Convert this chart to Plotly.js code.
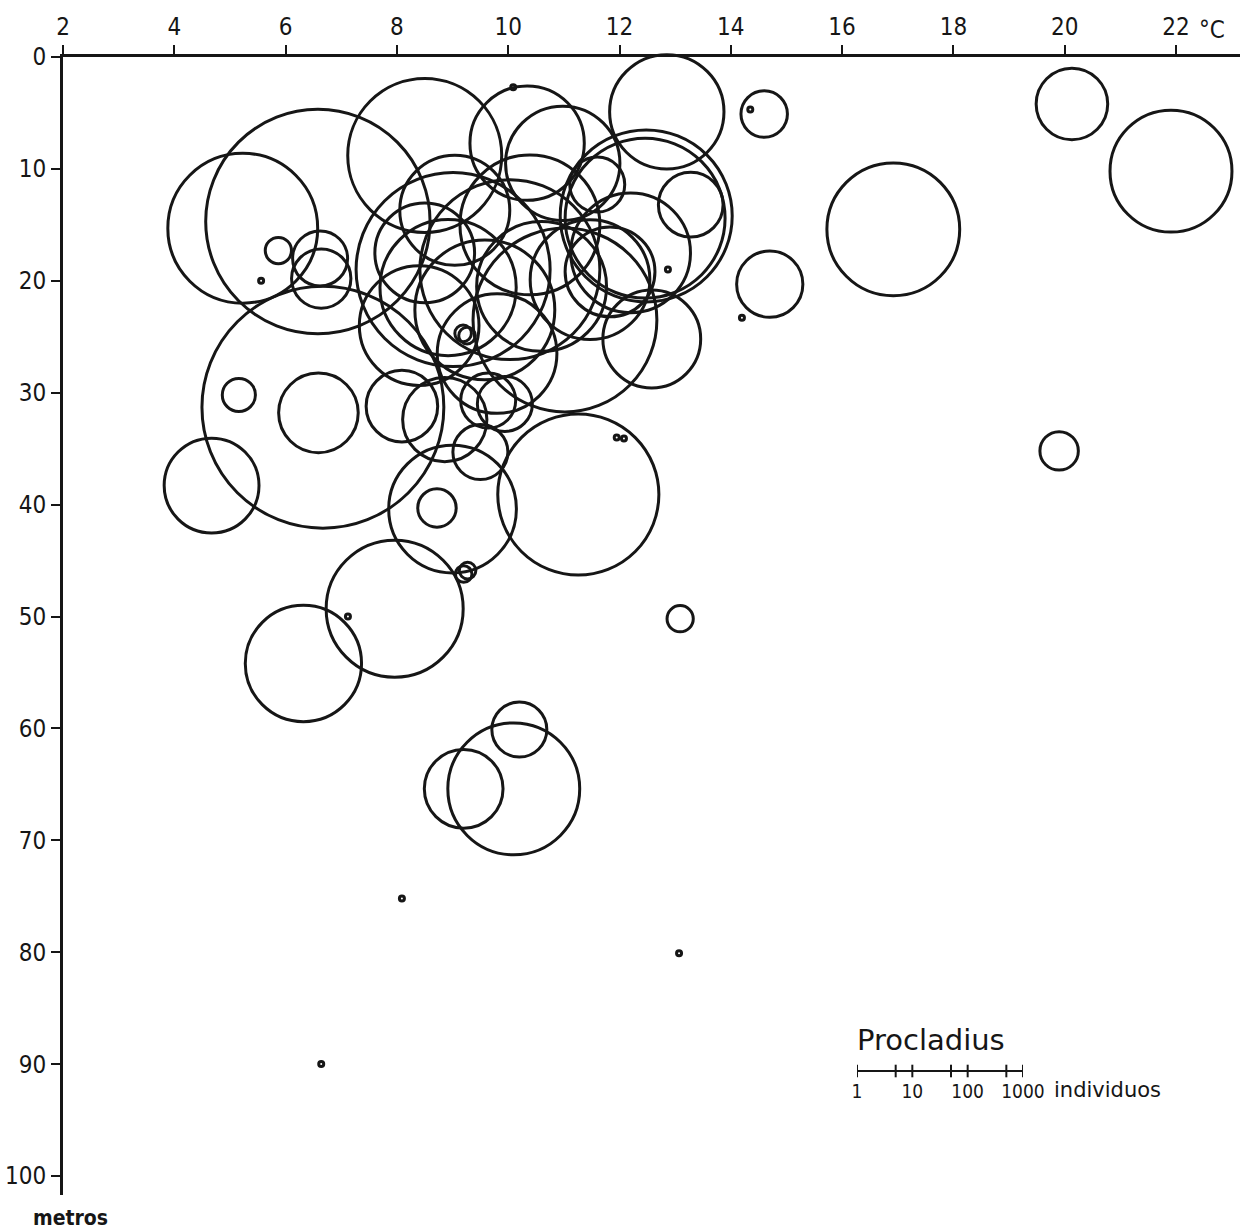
<!DOCTYPE html>
<html>
<head>
<meta charset="utf-8">
<script src="https://cdn.plot.ly/plotly-3.0.1.min.js"></script>
<style>html,body{margin:0;padding:0;background:#fff;}#chart{width:1242px;height:1232px;}</style>
</head>
<body>
<div id="chart"></div>
<script>
// Temperature (°C), depth (m) and number of Procladius individuals per sample
const temperature = [
  21.91, 20.13, 16.92, 14.60, 14.35, 14.70, 14.20, 19.90, 13.09, 8.09,
  13.07, 6.64, 12.87, 11.95, 12.08, 10.09, 7.12, 5.56,
  10.20, 10.10, 9.20, 6.32, 7.96, 9.20, 9.27,
  11.26, 8.72, 12.58, 9.00, 9.50, 9.94, 9.64, 8.09, 8.86,
  6.67, 4.67, 6.59, 5.16, 5.23, 6.58, 8.50, 5.87, 6.62, 6.64,
  10.34, 10.98, 12.85, 12.48, 12.46, 13.28, 11.60, 11.83,
  9.01, 8.92, 10.03, 9.58, 10.39, 9.04, 11.02, 11.47, 9.19, 9.26,
  8.40, 9.80, 8.50, 10.60, 12.20
];
const depth = [
  10.2, 4.2, 15.4, 5.1, 4.7, 20.3, 23.3, 35.2, 50.2, 75.2,
  80.1, 90.0, 19.0, 34.0, 34.1, 2.7, 50.0, 20.0,
  60.1, 65.4, 65.4, 54.2, 49.3, 46.2, 45.9,
  39.1, 40.3, 25.2, 40.4, 35.3, 31.0, 30.7, 31.2, 32.4,
  31.3, 38.3, 31.8, 30.2, 15.3, 14.7, 8.8, 17.3, 18.0, 19.8,
  7.7, 9.5, 4.9, 14.2, 14.4, 13.2, 11.4, 19.2,
  19.0, 20.6, 19.0, 22.6, 15.0, 13.7, 23.5, 19.9, 24.7, 24.9,
  24.0, 26.5, 17.5, 20.5, 17.5
];
const individuals = [
  165, 20, 260, 7, 1, 16, 1, 5, 3, 1,
  1, 1, 1, 1, 1, 1, 1, 1,
  10, 250, 27, 130, 310, 2, 2,
  850, 5, 60, 210, 10, 10, 10, 20, 34,
  25000, 53, 28, 4, 530, 12000, 630, 3, 10, 12,
  120, 120, 120, 1340, 810, 15, 10, 43,
  3370, 300, 1870, 350, 350, 100, 2200, 150, 2, 2,
  150, 150, 65, 230, 150
];

// Legend scale
const scaleTicks = [1, 5, 10, 50, 100, 500, 1000];
const scaleLabelVals = [1, 10, 100, 1000];
const scaleLabels = ['1', '10', '100', '1000'];

const xTicks = [2, 4, 6, 8, 10, 12, 14, 16, 18, 20, 22];
const yTicks = [0, 10, 20, 30, 40, 50, 60, 70, 80, 90, 100];

const PX_PER_DECADE = 55; // from the legend bar
const sizes = individuals.map(n => Math.max(5, PX_PER_DECADE * Math.log10(n)));

const ink = '#161616';
const FONT = '"DejaVu Sans Condensed", "Liberation Sans Narrow", "DejaVu Sans", sans-serif';
const FONT2 = '"DejaVu Sans", "Liberation Sans", sans-serif';

const traces = [
  {
    type: 'scatter', mode: 'markers',
    x: temperature, y: depth,
    marker: { symbol: 'circle-open', size: sizes, opacity: 1, color: ink, line: { color: ink, width: 3 } },
    cliponaxis: false, hoverinfo: 'x+y'
  },
  {
    type: 'scatter', mode: 'lines',
    x: [scaleTicks[0], scaleTicks[scaleTicks.length - 1]], y: [0.5, 0.5],
    xaxis: 'x2', yaxis: 'y2',
    line: { color: ink, width: 2 }, hoverinfo: 'skip'
  },
  {
    type: 'scatter', mode: 'markers',
    x: scaleTicks, y: scaleTicks.map(() => 0.5),
    xaxis: 'x2', yaxis: 'y2',
    marker: { symbol: 'line-ns-open', size: 9, opacity: 1, color: ink, line: { color: ink, width: 2 } },
    hoverinfo: 'skip'
  }
];

const W = 1242, H = 1232, L = 63, R = 2, T = 57, B = 37;
const plotW = W - L - R, plotH = H - T - B;
const px2fx = px => (px - L) / plotW;
const py2fy = py => (H - B - py) / plotH;

const layout = {
  width: W, height: H,
  margin: { l: L, r: R, t: T, b: B, pad: 0 },
  paper_bgcolor: '#fff', plot_bgcolor: '#fff',
  showlegend: false,
  font: { family: FONT, color: ink },
  xaxis: {
    range: [2, 2 + plotW / 55.65], side: 'top',
    showline: true, linewidth: 3, linecolor: ink,
    ticks: 'outside', ticklen: 9, tickwidth: 2, tickcolor: ink,
    tickvals: xTicks, ticktext: xTicks.map(String),
    tickfont: { size: 24, family: FONT, color: ink },
    showgrid: false, zeroline: false, fixedrange: true
  },
  yaxis: {
    range: [plotH / 11.19, 0],
    showline: true, linewidth: 3, linecolor: ink,
    ticks: 'outside', ticklen: 9, tickwidth: 2, tickcolor: ink,
    tickvals: yTicks, ticktext: yTicks.map(String),
    tickfont: { size: 24, family: FONT, color: ink },
    showgrid: false, zeroline: false, fixedrange: true
  },
  xaxis2: {
    type: 'log', range: [0, 3],
    domain: [px2fx(857), px2fx(1023)],
    anchor: 'y2',
    showline: false, ticks: '', showgrid: false, zeroline: false,
    tickvals: scaleLabelVals, ticktext: scaleLabels,
    tickfont: { size: 19, family: FONT, color: ink },
    fixedrange: true
  },
  yaxis2: {
    range: [0, 1], domain: [py2fy(1078), py2fy(1064)],
    anchor: 'x2', visible: false, fixedrange: true
  },
  annotations: [
    { xref: 'paper', yref: 'paper', x: px2fx(1212), y: py2fy(30), text: '°C',
      showarrow: false, xanchor: 'center', yanchor: 'middle',
      font: { size: 24, family: FONT, color: ink } },
    { xref: 'paper', yref: 'paper', x: px2fx(70), y: py2fy(1218), text: '<b>metros</b>',
      showarrow: false, xanchor: 'center', yanchor: 'middle',
      font: { size: 21, family: FONT, color: ink } },
    { xref: 'paper', yref: 'paper', x: px2fx(855), y: py2fy(1040), text: 'Procladius',
      showarrow: false, xanchor: 'left', yanchor: 'middle',
      font: { size: 29, family: FONT2, color: ink } },
    { xref: 'paper', yref: 'paper', x: px2fx(1052), y: py2fy(1090), text: 'individuos',
      showarrow: false, xanchor: 'left', yanchor: 'middle',
      font: { size: 21, family: FONT2, color: ink } }
  ]
};

Plotly.newPlot('chart', traces, layout, { staticPlot: true, displayModeBar: false });
</script>
</body>
</html>
